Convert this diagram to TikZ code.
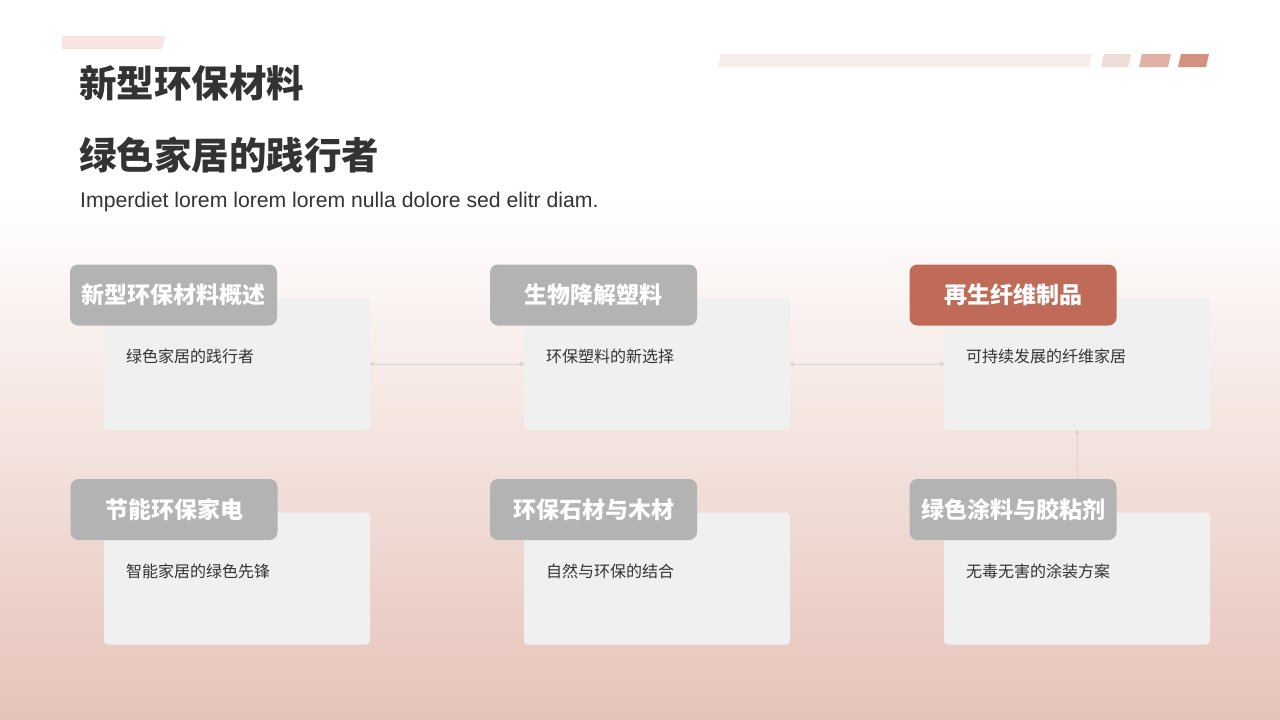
\documentclass[tikz,border=0pt]{standalone}
\usepackage{fontspec}
\setmainfont{Liberation Sans}
\newfontfamily\cjk{Noto Sans CJK SC}
\usetikzlibrary{arrows.meta}
\definecolor{bgbot}{HTML}{E6C3B9}
\definecolor{cardfill}{HTML}{F0F0F0}
\definecolor{tabgray}{HTML}{B3B3B3}
\definecolor{tabred}{HTML}{C06A58}
\definecolor{txtdark}{HTML}{333333}
\definecolor{linegray}{HTML}{D6D6D6}
\definecolor{decoA}{HTML}{F8E4E0}
\definecolor{decoB}{HTML}{F7EEEB}
\definecolor{decoC}{HTML}{F0DCD7}
\definecolor{decoD}{HTML}{E0B0A4}
\definecolor{decoE}{HTML}{D49180}
\tikzset{
  cardbox/.style={fill=cardfill, rounded corners=4pt, minimum width=266pt, minimum height=132pt, inner sep=0pt, draw=none},
  tabbox/.style={fill=tabgray, rounded corners=8pt, minimum width=207pt, minimum height=61pt, inner sep=0pt, text=white, font=\cjk\bfseries\fontsize{23}{23}\selectfont},
  tabhot/.style={tabbox, fill=tabred},
  cardtext/.style={anchor=west, inner sep=0pt, text=txtdark, font=\cjk\fontsize{16}{16}\selectfont},
  titletext/.style={anchor=west, inner sep=0pt, text=txtdark, font=\cjk\bfseries\fontsize{37.5}{37.5}\selectfont},
  link/.style={draw=linegray, line width=0.9pt, {Circle[length=4.5pt]}-{Circle[length=4.5pt]}},
}
\begin{document}
\begin{tikzpicture}[x=1pt,y=-1pt]
\useasboundingbox (0,0) rectangle (1280,720);
% background
\fill[white] (0,0) rectangle (1280,720);
\shade[top color=white, bottom color=bgbot] (0,200) rectangle (1280,720);
% decorations
\fill[decoA] (62,36) -- (165,36) -- (162,49) -- (62,49) -- cycle;
\fill[decoB] (721,54) -- (1092,54) -- (1089,67) -- (718,67) -- cycle;
\fill[decoC] (1104,54) -- (1131,54) -- (1128,67) -- (1101,67) -- cycle;
\fill[decoD] (1142,54) -- (1171,54) -- (1168,67) -- (1139,67) -- cycle;
\fill[decoE] (1181,54) -- (1209,54) -- (1206,67) -- (1178,67) -- cycle;
% titles
\node[titletext] (t1) at (79,83) {新型环保材料};
\node[titletext] (t2) at (79,155) {绿色家居的践行者};
\node[anchor=west, inner sep=0pt, text=txtdark, font=\fontsize{21.2}{21.2}\selectfont] (sub) at (80,202) {Imperdiet lorem lorem lorem nulla dolore sed elitr diam.};
% cards
\node[cardbox] (c1) at (237,364) {};
\node[cardbox] (c2) at (657,364) {};
\node[cardbox] (c3) at (1077,364) {};
\node[cardbox] (c4) at (237,578.5) {};
\node[cardbox] (c5) at (657,578.5) {};
\node[cardbox] (c6) at (1077,578.5) {};
% connectors
\draw[link] (c1.east) -- (c2.west);
\draw[link] (c2.east) -- (c3.west);
\draw[link] (c3.south) -- (c6.north);
% card texts
\node[cardtext] (d1) at (126,356) {绿色家居的践行者};
\node[cardtext] (d2) at (546,356) {环保塑料的新选择};
\node[cardtext] (d3) at (966,356) {可持续发展的纤维家居};
\node[cardtext] (d4) at (126,571) {智能家居的绿色先锋};
\node[cardtext] (d5) at (546,571) {自然与环保的结合};
\node[cardtext] (d6) at (966,571) {无毒无害的涂装方案};
% tabs
\node[tabbox] (h1) at (173.5,295) {新型环保材料概述};
\node[tabbox] (h2) at (593.5,295) {生物降解塑料};
\node[tabhot] (h3) at (1013,295) {再生纤维制品};
\node[tabbox] (h4) at (174,509.5) {节能环保家电};
\node[tabbox] (h5) at (593.5,509.5) {环保石材与木材};
\node[tabbox] (h6) at (1013,509.5) {绿色涂料与胶粘剂};
\end{tikzpicture}
\end{document}
